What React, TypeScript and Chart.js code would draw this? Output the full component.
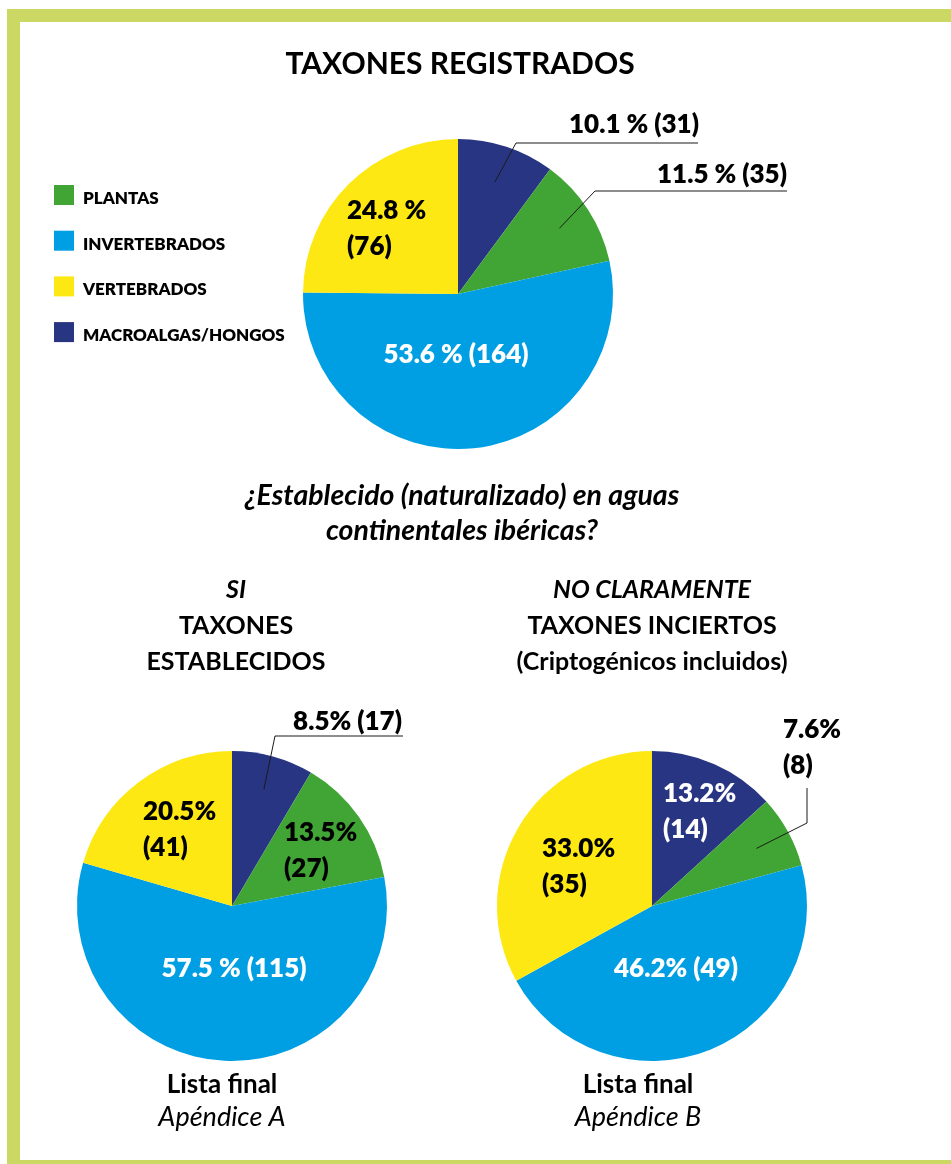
import React, { useEffect, useRef } from "react";
import { Chart, registerables } from "chart.js";

Chart.register(...registerables);

// ---------- DATA ----------
const categories = ["MACROALGAS/HONGOS", "PLANTAS", "INVERTEBRADOS", "VERTEBRADOS"];
const legendOrder = ["PLANTAS", "INVERTEBRADOS", "VERTEBRADOS", "MACROALGAS/HONGOS"];
const sliceColors = ["#283583", "#41a535", "#009fe3", "#fde813"];

const registeredCounts = [31, 35, 164, 76];
const registeredLabels = [["10.1 % (31)"], ["11.5 % (35)"], ["53.6 % (164)"], ["24.8 %", "(76)"]];

const establishedCounts = [17, 27, 115, 41];
const establishedLabels = [["8.5% (17)"], ["13.5%", "(27)"], ["57.5 % (115)"], ["20.5%", "(41)"]];

const uncertainCounts = [14, 8, 49, 35];
const uncertainLabels = [["13.2%", "(14)"], ["7.6%", "(8)"], ["46.2% (49)"], ["33.0%", "(35)"]];

const mainTitle = "TAXONES REGISTRADOS";
const questionLines = ["¿Establecido (naturalizado) en aguas", "continentales ibéricas?"];
const leftHeading = ["SI", "TAXONES", "ESTABLECIDOS"];
const rightHeading = ["NO CLARAMENTE", "TAXONES INCIERTOS", "(Criptogénicos incluidos)"];
const leftFooter = ["Lista final", "Apéndice A"];
const rightFooter = ["Lista final", "Apéndice B"];

// ---------- LAYOUT / STYLE ----------
const W = 951;
const H = 1164;
const R = 155;
const FONT = "Lato";
const BORDER = "#cbd964";

type Spec = {
  dx: number;
  dy: number;
  align: CanvasTextAlign;
  color: string;
  leader?: { from: number; pts: number[][] };
};

const registeredSpecs: Spec[] = [
  { dx: 241, dy: -161, align: "right", color: "#000", leader: { from: 0.76, pts: [[58, -151], [240, -151]] } },
  { dx: 329, dy: -111, align: "right", color: "#000", leader: { from: 0.78, pts: [[137, -103], [329, -103]] } },
  { dx: -2, dy: 69, align: "center", color: "#fff" },
  { dx: -111, dy: -75, align: "left", color: "#000" },
];
const establishedSpecs: Spec[] = [
  { dx: 170, dy: -176, align: "right", color: "#000", leader: { from: 0.78, pts: [[43, -170], [171, -170]] } },
  { dx: 52, dy: -65, align: "left", color: "#000" },
  { dx: 2, dy: 71, align: "center", color: "#fff" },
  { dx: -89, dy: -86, align: "left", color: "#000" },
];
const uncertainSpecs: Spec[] = [
  { dx: 11, dy: -104, align: "left", color: "#fff" },
  { dx: 131, dy: -168, align: "left", color: "#000", leader: { from: 0.77, pts: [[155, -83], [155, -118]] } },
  { dx: 24, dy: 71, align: "center", color: "#fff" },
  { dx: -110, dy: -49, align: "left", color: "#000" },
];

function makeLabelPlugin(texts: string[][], specs: Spec[]) {
  return {
    id: "sliceLabels",
    afterDatasetsDraw(chart: any) {
      const ctx: CanvasRenderingContext2D = chart.ctx;
      const meta = chart.getDatasetMeta(0);
      ctx.save();
      meta.data.forEach((arc: any, i: number) => {
        const p = arc.getProps(["x", "y", "startAngle", "endAngle", "outerRadius"], true);
        const s = specs[i];
        if (s.leader) {
          const mid = (p.startAngle + p.endAngle) / 2;
          const r0 = p.outerRadius * s.leader.from;
          ctx.beginPath();
          ctx.moveTo(p.x + Math.cos(mid) * r0, p.y + Math.sin(mid) * r0);
          s.leader.pts.forEach(([px, py]) => ctx.lineTo(p.x + px, p.y + py));
          ctx.strokeStyle = "#1a1a1a";
          ctx.lineWidth = 1;
          ctx.stroke();
        }
        ctx.font = `800 26px ${FONT}`;
        ctx.fillStyle = s.color;
        ctx.textAlign = s.align;
        ctx.textBaseline = "alphabetic";
        texts[i].forEach((t, k) => ctx.fillText(t, p.x + s.dx, p.y + s.dy + k * 36));
      });
      ctx.restore();
    },
  };
}

type TextItem = { text: string; x: number; y: number; font: string; align?: CanvasTextAlign };

function pageTexts(): TextItem[] {
  const items: TextItem[] = [];
  items.push({ text: mainTitle, x: 460, y: 74, font: `bold 30px ${FONT}` });
  questionLines.forEach((t, i) => items.push({ text: t, x: 462, y: 505 + i * 35, font: `italic bold 28.5px ${FONT}` }));
  leftHeading.forEach((t, i) =>
    items.push({ text: t, x: 236, y: 598 + i * 36, font: `${i === 0 ? "italic " : ""}bold 25px ${FONT}` })
  );
  rightHeading.forEach((t, i) =>
    items.push({ text: t, x: 652, y: 598 + i * 36, font: `${i === 0 ? "italic " : ""}bold 25px ${FONT}` })
  );
  leftFooter.forEach((t, i) =>
    items.push({ text: t, x: 222, y: 1093 + i * 33, font: i === 0 ? `bold 26px ${FONT}` : `italic 27px ${FONT}` })
  );
  rightFooter.forEach((t, i) =>
    items.push({ text: t, x: 638, y: 1093 + i * 33, font: i === 0 ? `bold 26px ${FONT}` : `italic 27px ${FONT}` })
  );
  return items;
}

const pageTextPlugin = {
  id: "pageText",
  afterDraw(chart: any) {
    const ctx: CanvasRenderingContext2D = chart.ctx;
    ctx.save();
    ctx.textBaseline = "alphabetic";
    ctx.fillStyle = "#000";
    pageTexts().forEach((it) => {
      ctx.font = it.font;
      ctx.textAlign = it.align || "center";
      ctx.fillText(it.text, it.x, it.y);
    });
    // legend
    legendOrder.forEach((name, i) => {
      const idx = categories.indexOf(name);
      const top = 185 + i * 45.7;
      ctx.fillStyle = sliceColors[idx];
      ctx.fillRect(54, top, 20, 20);
      ctx.fillStyle = "#000";
      ctx.font = `800 17px ${FONT}`;
      ctx.textAlign = "left";
      ctx.fillText(name, 83, top + 19);
    });
    ctx.restore();
  },
};

function makePie(
  canvas: HTMLCanvasElement,
  counts: number[],
  texts: string[][],
  specs: Spec[],
  cx: number,
  cy: number,
  withPageText: boolean
) {
  const plugins: any[] = [makeLabelPlugin(texts, specs)];
  if (withPageText) plugins.push(pageTextPlugin);
  return new Chart(canvas, {
    type: "pie",
    data: {
      labels: categories,
      datasets: [
        {
          data: counts,
          backgroundColor: sliceColors,
          borderWidth: 0,
        },
      ],
    },
    options: {
      responsive: false,
      animation: false,
      devicePixelRatio: 1,
      layout: {
        padding: { left: cx - R, right: W - (cx + R), top: cy - R, bottom: H - (cy + R) },
      },
      plugins: {
        legend: { display: false },
        tooltip: { enabled: false },
        title: { display: false },
      },
    },
    plugins,
  });
}

export default function App() {
  const c1 = useRef<HTMLCanvasElement>(null);
  const c2 = useRef<HTMLCanvasElement>(null);
  const c3 = useRef<HTMLCanvasElement>(null);

  useEffect(() => {
    const charts = [
      makePie(c1.current!, registeredCounts, registeredLabels, registeredSpecs, 458, 294, true),
      makePie(c2.current!, establishedCounts, establishedLabels, establishedSpecs, 232, 906, false),
      makePie(c3.current!, uncertainCounts, uncertainLabels, uncertainSpecs, 652, 906, false),
    ];
    return () => charts.forEach((c) => c.destroy());
  }, []);

  const canvasStyle: React.CSSProperties = { position: "absolute", left: 0, top: 0, width: W, height: H };

  return (
    <div style={{ position: "absolute", left: 0, top: 0, width: W, height: H, overflow: "hidden", background: "#fff" }}>
      <div
        style={{
          position: "absolute",
          left: 7,
          top: 9,
          width: 960,
          height: 1164,
          boxSizing: "border-box",
          border: `13px solid ${BORDER}`,
        }}
      />
      <canvas ref={c2} width={W} height={H} style={canvasStyle} />
      <canvas ref={c3} width={W} height={H} style={canvasStyle} />
      <canvas ref={c1} width={W} height={H} style={canvasStyle} />
    </div>
  );
}
